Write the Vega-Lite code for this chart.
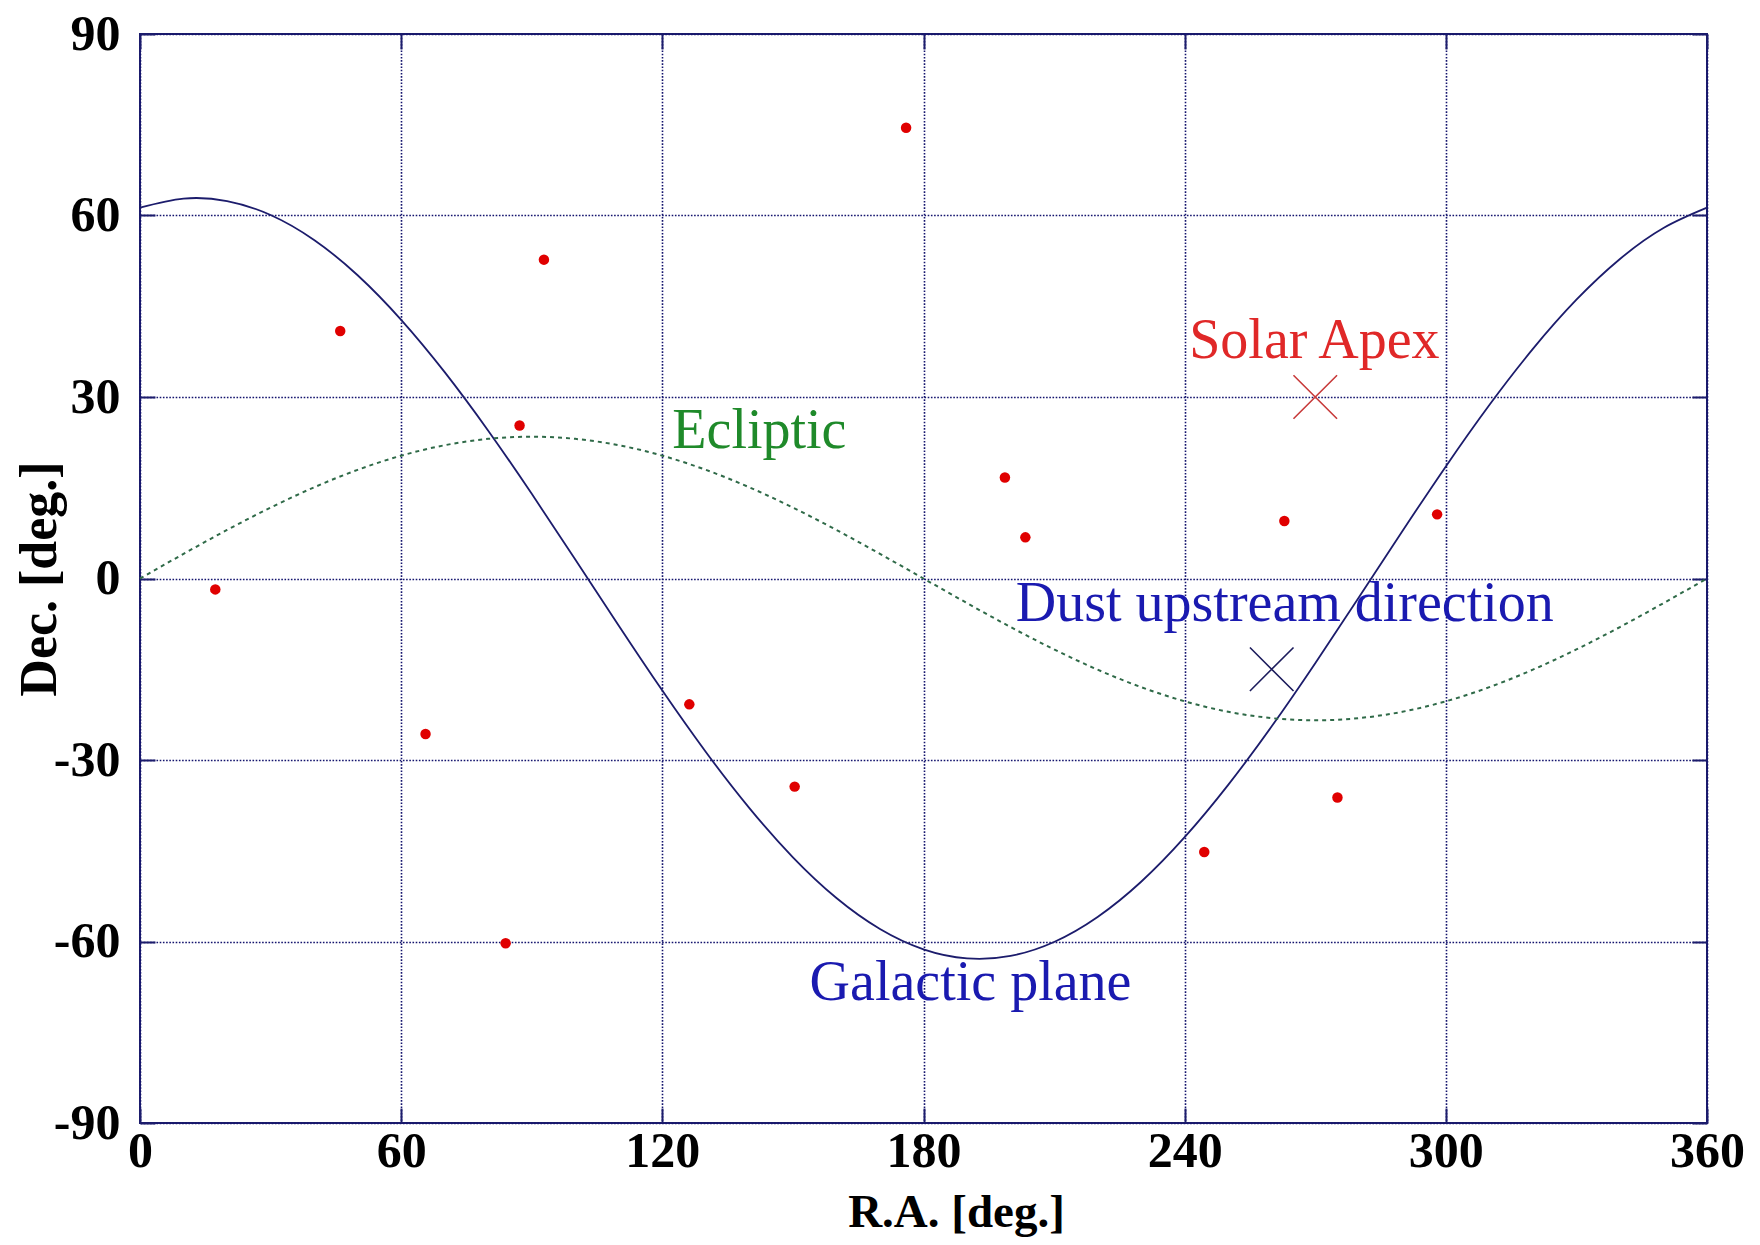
{
  "$schema": "https://vega.github.io/schema/vega-lite/v6.json",
  "width": 1567,
  "height": 1089,
  "autosize": {"type": "none"},
  "padding": {"left": 140, "top": 34, "right": 53, "bottom": 122},
  "background": "white",
  "config": {
    "view": {"stroke": "#1c1c6c", "strokeWidth": 2},
    "font": "Liberation Serif"
  },
  "datasets": {
    "galactic": [
      {"ra": 0, "dec": 61.29}, {"ra": 10, "dec": 62.79}, {"ra": 20, "dec": 62.38}, {"ra": 30, "dec": 60.08},
      {"ra": 40, "dec": 55.95}, {"ra": 50, "dec": 50.13}, {"ra": 60, "dec": 42.76}, {"ra": 70, "dec": 34.11},
      {"ra": 80, "dec": 24.43}, {"ra": 90, "dec": 13.99}, {"ra": 100, "dec": 3.14}, {"ra": 110, "dec": -7.81},
      {"ra": 120, "dec": -18.53}, {"ra": 130, "dec": -28.68}, {"ra": 140, "dec": -37.95}, {"ra": 150, "dec": -46.08},
      {"ra": 160, "dec": -52.81}, {"ra": 170, "dec": -57.93}, {"ra": 180, "dec": -61.29}, {"ra": 190, "dec": -62.79},
      {"ra": 200, "dec": -62.38}, {"ra": 210, "dec": -60.08}, {"ra": 220, "dec": -55.95}, {"ra": 230, "dec": -50.13},
      {"ra": 240, "dec": -42.76}, {"ra": 250, "dec": -34.11}, {"ra": 260, "dec": -24.43}, {"ra": 270, "dec": -13.99},
      {"ra": 280, "dec": -3.14}, {"ra": 290, "dec": 7.81}, {"ra": 300, "dec": 18.53}, {"ra": 310, "dec": 28.68},
      {"ra": 320, "dec": 37.95}, {"ra": 330, "dec": 46.08}, {"ra": 340, "dec": 52.81}, {"ra": 350, "dec": 57.93},
      {"ra": 360, "dec": 61.29}
    ],
    "ecliptic": [
      {"ra": 0, "dec": 0}, {"ra": 10, "dec": 4.07}, {"ra": 20, "dec": 8.02}, {"ra": 30, "dec": 11.72},
      {"ra": 40, "dec": 15.07}, {"ra": 50, "dec": 17.96}, {"ra": 60, "dec": 20.3}, {"ra": 70, "dec": 22.03},
      {"ra": 80, "dec": 23.08}, {"ra": 90, "dec": 23.44}, {"ra": 100, "dec": 23.08}, {"ra": 110, "dec": 22.03},
      {"ra": 120, "dec": 20.3}, {"ra": 130, "dec": 17.96}, {"ra": 140, "dec": 15.07}, {"ra": 150, "dec": 11.72},
      {"ra": 160, "dec": 8.02}, {"ra": 170, "dec": 4.07}, {"ra": 180, "dec": 0}, {"ra": 190, "dec": -4.07},
      {"ra": 200, "dec": -8.02}, {"ra": 210, "dec": -11.72}, {"ra": 220, "dec": -15.07}, {"ra": 230, "dec": -17.96},
      {"ra": 240, "dec": -20.3}, {"ra": 250, "dec": -22.03}, {"ra": 260, "dec": -23.08}, {"ra": 270, "dec": -23.44},
      {"ra": 280, "dec": -23.08}, {"ra": 290, "dec": -22.03}, {"ra": 300, "dec": -20.3}, {"ra": 310, "dec": -17.96},
      {"ra": 320, "dec": -15.07}, {"ra": 330, "dec": -11.72}, {"ra": 340, "dec": -8.02}, {"ra": 350, "dec": -4.07},
      {"ra": 360, "dec": 0}
    ],
    "sources": [
      {"ra": 17.3, "dec": -1.8}, {"ra": 46.0, "dec": 40.9}, {"ra": 65.6, "dec": -25.7}, {"ra": 84.0, "dec": -60.3},
      {"ra": 87.2, "dec": 25.3}, {"ra": 92.8, "dec": 52.7}, {"ra": 126.2, "dec": -20.8}, {"ra": 150.4, "dec": -34.4},
      {"ra": 176.0, "dec": 74.5}, {"ra": 198.7, "dec": 16.7}, {"ra": 203.4, "dec": 6.8}, {"ra": 244.5, "dec": -45.2},
      {"ra": 262.9, "dec": 9.5}, {"ra": 275.1, "dec": -36.2}, {"ra": 298.0, "dec": 10.6}
    ],
    "markers": [
      {"name": "Solar Apex", "ra": 270, "dec": 30},
      {"name": "Dust upstream direction", "ra": 260, "dec": -15}
    ],
    "labels": [
      {"label": "Solar Apex", "ra": 269.8, "dec": 36.5},
      {"label": "Ecliptic", "ra": 142.3, "dec": 21.5},
      {"label": "Dust upstream direction", "ra": 263.0, "dec": -7.05},
      {"label": "Galactic plane", "ra": 190.8, "dec": -69.6}
    ]
  },
  "layer": [
    {
      "data": {"name": "galactic"},
      "mark": {"type": "line", "color": "#1c1c6c", "strokeWidth": 1.8, "interpolate": "natural"},
      "encoding": {
        "x": {
          "field": "ra", "type": "quantitative",
          "scale": {"domain": [0, 360], "nice": false, "zero": false},
          "axis": {
            "orient": "bottom", "values": [0, 60, 120, 180, 240, 300, 360],
            "title": "R.A. [deg.]", "titleFont": "Liberation Serif", "titleFontSize": 47, "titleFontWeight": "bold",
            "titleColor": "black", "titlePadding": 13, "titleX": 816,
            "labelFont": "Liberation Serif", "labelFontSize": 50, "labelFontWeight": "bold", "labelColor": "black",
            "labelPadding": 18, "labelFlush": false, "labelOverlap": false,
            "tickSize": -15, "tickColor": "#1c1c6c", "tickWidth": 2,
            "domain": false,
            "grid": true, "gridColor": "#14146e", "gridDash": [1.6, 1.6], "gridWidth": 1.6, "gridOpacity": 1
          }
        },
        "y": {
          "field": "dec", "type": "quantitative",
          "scale": {"domain": [-90, 90], "nice": false, "zero": false},
          "axis": {
            "orient": "left", "values": [-90, -60, -30, 0, 30, 60, 90],
            "labelExpr": "datum.value < 0 ? '-' + abs(datum.value) : '' + datum.value",
            "title": "Dec. [deg.]", "titleFont": "Liberation Serif", "titleFontSize": 52, "titleFontWeight": "bold",
            "titleColor": "black", "titlePadding": -13,
            "labelFont": "Liberation Serif", "labelFontSize": 50, "labelFontWeight": "bold", "labelColor": "black",
            "labelPadding": 35, "labelFlush": false, "labelOverlap": false,
            "tickSize": -15, "tickColor": "#1c1c6c", "tickWidth": 2,
            "domain": false,
            "grid": true, "gridColor": "#14146e", "gridDash": [1.6, 1.6], "gridWidth": 1.6, "gridOpacity": 1
          }
        }
      }
    },
    {
      "data": {"name": "ecliptic"},
      "mark": {"type": "line", "color": "#2f6a48", "strokeWidth": 2, "strokeDash": [4, 4], "interpolate": "natural"},
      "encoding": {
        "x": {"field": "ra", "type": "quantitative", "axis": {"orient": "top", "values": [0, 60, 120, 180, 240, 300, 360], "labels": false, "title": null, "tickSize": -15, "tickColor": "#1c1c6c", "tickWidth": 2, "domain": false, "grid": false}},
        "y": {"field": "dec", "type": "quantitative", "axis": {"orient": "right", "values": [-90, -60, -30, 0, 30, 60, 90], "labels": false, "title": null, "tickSize": -15, "tickColor": "#1c1c6c", "tickWidth": 2, "domain": false, "grid": false}}
      }
    },
    {
      "data": {"name": "sources"},
      "mark": {"type": "point", "filled": true, "shape": "circle", "color": "#e00000", "size": 110, "opacity": 1},
      "encoding": {
        "x": {"field": "ra", "type": "quantitative", "axis": null},
        "y": {"field": "dec", "type": "quantitative", "axis": null}
      }
    },
    {
      "data": {"name": "markers"},
      "mark": {"type": "point", "filled": false, "shape": "M-1,-1L1,1M1,-1L-1,1", "size": 1900, "strokeWidth": 1.6, "opacity": 1},
      "encoding": {
        "x": {"field": "ra", "type": "quantitative", "axis": null},
        "y": {"field": "dec", "type": "quantitative", "axis": null},
        "color": {"field": "name", "type": "nominal", "legend": null,
          "scale": {"domain": ["Solar Apex", "Dust upstream direction"], "range": ["#c83a3a", "#1c1c5c"]}}
      }
    },
    {
      "data": {"name": "labels"},
      "mark": {"type": "text", "font": "Liberation Serif", "align": "center", "baseline": "alphabetic"},
      "encoding": {
        "x": {"field": "ra", "type": "quantitative", "axis": null},
        "y": {"field": "dec", "type": "quantitative", "axis": null},
        "text": {"field": "label"},
        "size": {"field": "label", "type": "nominal", "legend": null,
          "scale": {"domain": ["Solar Apex", "Ecliptic", "Dust upstream direction", "Galactic plane"],
                    "range": [56, 56, 58, 56]}},
        "color": {"field": "label", "type": "nominal", "legend": null,
          "scale": {"domain": ["Solar Apex", "Ecliptic", "Dust upstream direction", "Galactic plane"],
                    "range": ["#e02828", "#1f8a2a", "#1a1ab0", "#1a1ab0"]}}
      }
    }
  ],
  "resolve": {"axis": {"x": "independent", "y": "independent"}, "scale": {"color": "independent", "size": "independent"}}
}
